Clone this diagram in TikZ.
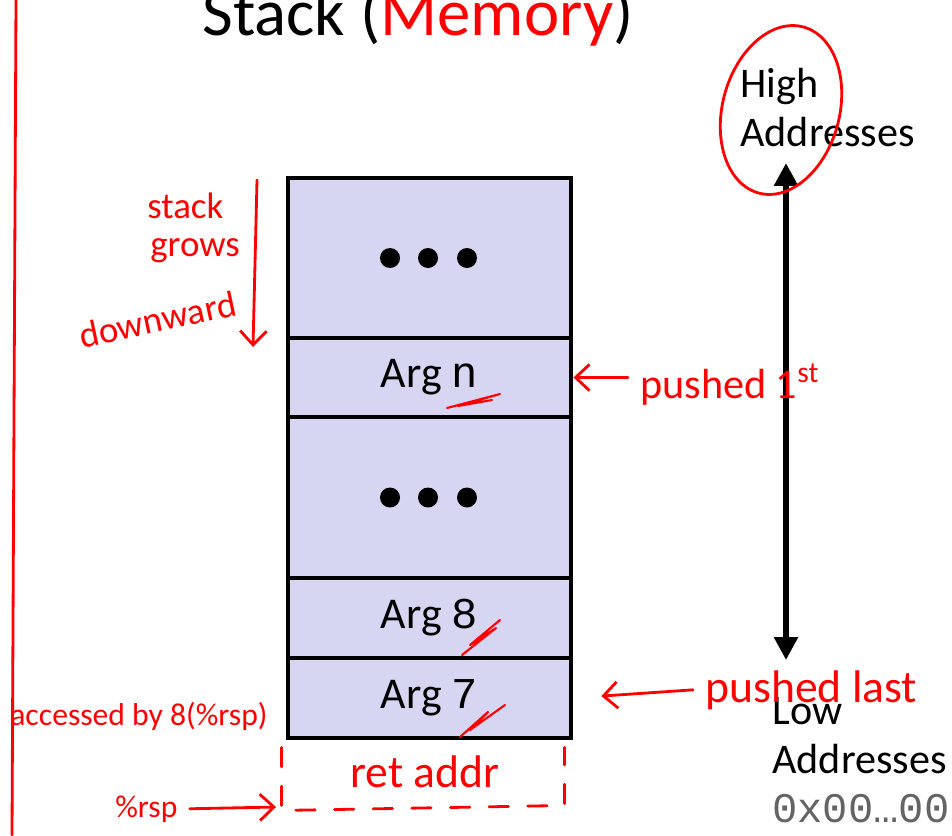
\documentclass[tikz,border=0pt]{standalone}
\usepackage{fontspec}
\setmainfont{Carlito}
\setmonofont{Liberation Mono}
\definecolor{stackfill}{RGB}{214,214,242}
\definecolor{penred}{RGB}{255,0,0}
\definecolor{addrgray}{RGB}{100,100,100}
\usetikzlibrary{arrows.meta}

\begin{document}
\begin{tikzpicture}[x=0.02cm,y=-0.02cm,
  every node/.style={inner sep=0pt},
  cell/.style={draw,line width=2.8pt,fill=stackfill,minimum width=5.66cm,font=\fontsize{25}{30}\selectfont},
  pen/.style={penred,line width=1.6pt,line cap=round,line join=round},
  hand/.style={text=penred,font=\fontsize{#1}{#1}\selectfont,inner xsep=0.24cm},
  hand/.default=22,
  penarrow/.style={pen,-{Straight Barb[length=8pt,width=15pt]}},
  addr/.style={anchor=north west,align=left,font=\fontsize{24}{28}\selectfont}]
  \useasboundingbox (0,0) rectangle (952,835);
  % the stack
  \node[cell,minimum height=3.2cm] (dotsTop) at (429.5,258) {};
  \node[cell,minimum height=1.58cm] (argN) at (429.5,377.5) {Arg \texttt{n}};
  \node[cell,minimum height=3.22cm] (dotsMid) at (429.5,497.5) {};
  \node[cell,minimum height=1.6cm] (argEight) at (429.5,618) {Arg \texttt{8}};
  \node[cell,minimum height=1.6cm] (argSeven) at (429.5,698) {Arg \texttt{7}};
  \foreach \n in {dotsTop,dotsMid}
    \foreach \dx in {-0.79,-0.03,0.75}
      \fill ([xshift=\dx cm]\n.center) circle (0.2cm);
  \node[anchor=base,font=\fontsize{38}{40}\selectfont] (title) at (418,35) {Stack (\textcolor{penred}{Memory})};
  % addresses
  \node[addr] (high) at (740,68) {High\\Addresses};
  \node[addr] (low) at (772,697) {Low\\Addresses\\\textcolor{addrgray}{\texttt{0x00…00}}};
  \coordinate (hiTip) at (786,163);
  \coordinate (loTip) at (786,660);
  \draw[line width=3.4pt,{Triangle[length=13pt,width=13pt]}-{Triangle[length=13pt,width=13pt]}] (hiTip) -- (loTip);
  % pen notes
  \draw[pen] (16,0) -- (12,835);
  \draw[pen,rotate around={-15:(781,110)}] (781,110) ellipse [x radius=1.17cm,y radius=1.72cm];
  \node[hand=21,anchor=base west] (stackWord) at (135,218) {stack};
  \node[hand=21,anchor=base west] (growsWord) at (138,256) {grows};
  \node[hand=21,anchor=base west,rotate=12] (downWord) at (70,351) {downward};
  \coordinate (growTop) at (257,180);
  \coordinate (growBot) at (253,347);
  \draw[penarrow] (growTop) -- (growBot);
  \node[hand=24,anchor=base west] (pushFirst) at (628,398) {pushed 1\textsuperscript{st}};
  \draw[penarrow] (pushFirst.west |- argN.east) -- (argN.east);
  \node[hand=26,anchor=base west] (pushLast) at (693,702) {pushed last};
  \draw[penarrow,shorten >=0.56cm] (pushLast.west) -- (argSeven.east);
  \node[hand=18,anchor=base west] (accessed) at (-2,725) {accessed by 8(\%rsp)};
  \draw[pen,dash pattern=on 11pt off 11pt] (argSeven.south west) ++(-4,7) -- ++(0,63) -- ++(283,-5) -- ++(0,-58);
  \node[hand=26,anchor=base] (retAddr) at (425,787) {ret addr};
  \node[hand=18,anchor=base west] (rspWord) at (103,817) {\%rsp};
  \coordinate (rspTip) at (276,807);
  \draw[penarrow] (rspWord.east) -- (rspTip);
  % scribbles
  \draw[pen,line width=1.2pt] (447,408) -- (500,394) -- (458,406) -- (492,400);
  \draw[pen,line width=1.2pt] (462,655) -- (496,628) -- (470,645) -- (500,620);
  \draw[pen,line width=1.2pt] (460,737) -- (488,712) -- (470,730) -- (505,705);
\end{tikzpicture}
\end{document}
